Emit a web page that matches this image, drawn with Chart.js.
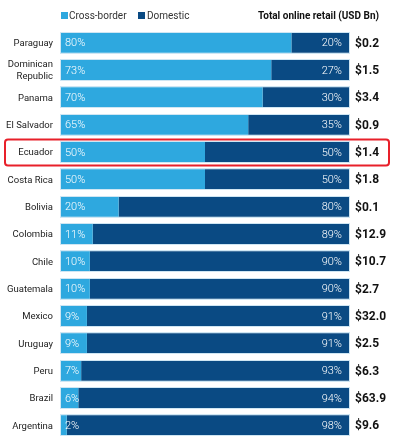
<!DOCTYPE html>
<html>
<head>
<meta charset="utf-8">
<script src="https://cdn.jsdelivr.net/npm/chart.js@4"></script>
<style>
  html, body { margin: 0; padding: 0; background: #fff; }
  #c { display: block; }
</style>
</head>
<body>
<canvas id="c" width="393" height="446"></canvas>
<script>
(function () {
    'use strict';

    const CROSS = '#2ea8df';
    const DOMESTIC = '#0a4a83';
    const HIGHLIGHT = '#e8202a';
    const FONT = '"Roboto", "Liberation Sans", sans-serif';

    const countries = ['Paraguay', ['Dominican', 'Republic'], 'Panama', 'El Salvador', 'Ecuador',
        'Costa Rica', 'Bolivia', 'Colombia', 'Chile', 'Guatemala', 'Mexico', 'Uruguay',
        'Peru', 'Brazil', 'Argentina'];
    const crossBorder = [80, 73, 70, 65, 50, 50, 20, 11, 10, 10, 9, 9, 7, 6, 2];
    const domestic = [20, 27, 30, 35, 50, 50, 80, 89, 90, 90, 91, 91, 93, 94, 98];
    const totals = ['$0.2', '$1.5', '$3.4', '$0.9', '$1.4', '$1.8', '$0.1', '$12.9',
        '$10.7', '$2.7', '$32.0', '$2.5', '$6.3', '$63.9', '$9.6'];
    const highlighted = 4;

    const labelsPlugin = {
        id: 'labels',
        afterDatasetsDraw(chart) {
            const ctx = chart.ctx;
            const area = chart.chartArea;
            const yScale = chart.scales.y;
            const xScale = chart.scales.x;
            const bars = chart.getDatasetMeta(0).data;
            ctx.save();
            ctx.textBaseline = 'middle';
            countries.forEach((c, i) => {
                const y = yScale.getPixelForValue(i);
                // thin light outline round the whole bar
                const h = bars[i].height;
                const x0 = xScale.getPixelForValue(0);
                const x1 = xScale.getPixelForValue(100);
                ctx.strokeStyle = '#cfe6f3';
                ctx.lineWidth = 1;
                ctx.strokeRect(Math.round(x0) - 0.5, Math.round(y - h / 2) - 0.5, Math.round(x1 - x0) + 1, Math.round(h) + 1);
                // category label
                ctx.fillStyle = '#222';
                ctx.font = '9.5px ' + FONT;
                ctx.textAlign = 'right';
                const lines = Array.isArray(c) ? c : [c];
                lines.forEach((ln, k) => {
                    ctx.fillText(ln, area.left - 8, y + 1 + (k - (lines.length - 1) / 2) * 12);
                });
                // shares
                ctx.fillStyle = '#ffffff';
                ctx.font = '300 11px ' + FONT;
                ctx.textAlign = 'left';
                ctx.fillText(crossBorder[i] + '%', x0 + 4, y + 1);
                ctx.textAlign = 'right';
                ctx.fillText(domestic[i] + '%', x1 - 7, y + 1);
                // totals
                ctx.fillStyle = '#111';
                ctx.font = 'bold 12px ' + FONT;
                ctx.textAlign = 'left';
                ctx.fillText(totals[i], area.right + 6, y + 1);
            });

            // highlight box
            const hy = yScale.getPixelForValue(highlighted);
            ctx.strokeStyle = HIGHLIGHT;
            ctx.lineWidth = 2;
            ctx.beginPath();
            ctx.roundRect(5, hy - 12.5, 384, 26, 3);
            ctx.stroke();

            // legend and header
            ctx.fillStyle = CROSS;
            ctx.fillRect(61, 12, 7, 7);
            ctx.fillStyle = DOMESTIC;
            ctx.fillRect(138, 12, 7, 7);
            ctx.font = '10px ' + FONT;
            ctx.fillStyle = '#333';
            ctx.textAlign = 'left';
            ctx.fillText('Cross-border', 69, 16);
            ctx.fillText('Domestic', 147, 16);
            ctx.font = 'bold 10px ' + FONT;
            ctx.fillStyle = '#111';
            ctx.textAlign = 'right';
            ctx.fillText('Total online retail (USD Bn)', 379, 16);
            ctx.restore();
        }
    };

    new Chart(document.getElementById('c'), {
        type: 'bar',
        data: {
            labels: countries,
            datasets: [{
                label: 'Cross-border',
                data: crossBorder,
                backgroundColor: CROSS,
                borderWidth: 0,
                categoryPercentage: 0.74,
                barPercentage: 1.0,
            }, {
                label: 'Domestic',
                data: domestic,
                backgroundColor: DOMESTIC,
                borderWidth: 0,
                categoryPercentage: 0.74,
                barPercentage: 1.0,
            }]
        },
        options: {
            indexAxis: 'y',
            responsive: false,
            animation: false,
            layout: { padding: { top: 29, right: 44, bottom: 7, left: 0 } },
            plugins: {
                legend: { display: false },
                tooltip: { enabled: false }
            },
            scales: {
                x: {
                    stacked: true,
                    min: 0,
                    max: 100,
                    display: false
                },
                y: {
                    stacked: true,
                    grid: { display: false },
                    border: { display: false },
                    ticks: { display: false },
                    afterFit(scale) { scale.width = 61; }
                }
            }
        },
        plugins: [labelsPlugin]
    });
})();
</script>
</body>
</html>
